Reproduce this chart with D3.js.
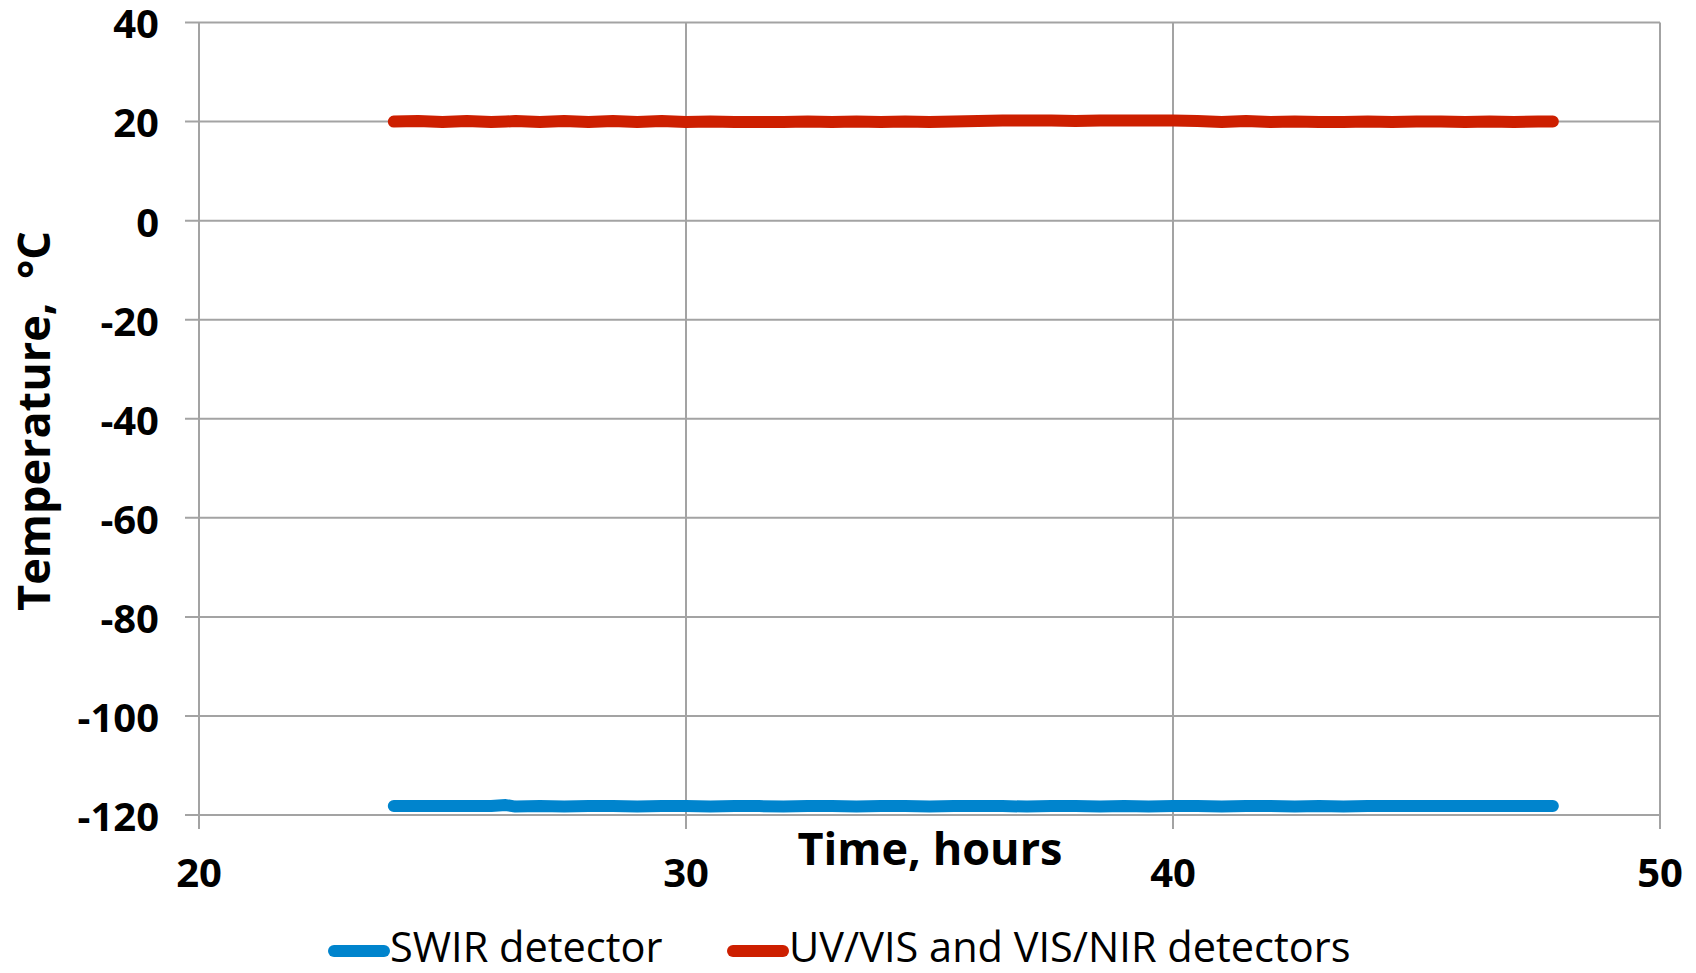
<!DOCTYPE html>
<html>
<head>
<meta charset="utf-8">
<script src="https://cdn.jsdelivr.net/npm/d3@7"></script>
<style>
  html, body { margin: 0; padding: 0; background: #fff; }
  svg { display: block; }
  text { font-family: "Open Sans", "DejaVu Sans", sans-serif; }
</style>
</head>
<body>
<svg id="chart" width="1696" height="973"></svg>
<script>
// ---- data ----
const timeHours = [24.0, 24.5, 25.0, 25.5, 26.0, 26.3, 26.5, 27.0, 27.5, 28.0, 28.5, 29.0, 29.5, 30.0,
  30.5, 31.0, 31.5, 32.0, 32.5, 33.0, 33.5, 34.0, 34.5, 35.0, 35.5, 36.0, 36.5, 37.0, 37.5,
  38.0, 38.5, 39.0, 39.5, 40.0, 40.5, 41.0, 41.5, 42.0, 42.5, 43.0, 43.5, 44.0, 44.5, 45.0,
  45.5, 46.0, 46.5, 47.0, 47.5, 47.8];
const swirTemp = [-118.2, -118.2, -118.2, -118.2, -118.2, -118.0, -118.3, -118.2, -118.3, -118.2,
  -118.2, -118.3, -118.2, -118.2, -118.3, -118.2, -118.2, -118.3, -118.2, -118.2, -118.3, -118.2,
  -118.2, -118.3, -118.2, -118.2, -118.2, -118.3, -118.2, -118.2, -118.3, -118.2, -118.3, -118.2,
  -118.2, -118.3, -118.2, -118.2, -118.3, -118.2, -118.3, -118.2, -118.2, -118.2, -118.2, -118.2,
  -118.2, -118.2, -118.2, -118.2];
const uvvisTemp = [20.0, 20.1, 19.9, 20.1, 19.9, 20.0, 20.1, 19.9, 20.1, 19.9, 20.1, 19.9, 20.1, 19.9,
  20.0, 19.9, 19.9, 19.9, 20.0, 19.9, 20.0, 19.9, 20.0, 19.9, 20.0, 20.1, 20.2, 20.2, 20.2,
  20.1, 20.2, 20.2, 20.2, 20.2, 20.1, 19.9, 20.1, 19.9, 20.0, 19.9, 19.9, 20.0, 19.9, 20.0,
  20.0, 19.9, 20.0, 19.9, 20.0, 20.0];
const xTicks = [20, 30, 40, 50];
const yTicks = [40, 20, 0, -20, -40, -60, -80, -100, -120];
const seriesNames = ["SWIR detector", "UV/VIS and VIS/NIR detectors"];
const seriesColors = ["#0084cd", "#cd1f00"];

// ---- layout ----
const svg = d3.select("#chart");
const mLeft = 199, mRight = 1660, mTop = 22.5, mBottom = 815;
const x = d3.scaleLinear().domain([20, 50]).range([mLeft, mRight]);
const y = d3.scaleLinear().domain([-120, 40]).range([mBottom, mTop]);
const gridColor = "#a3a3a3";

// horizontal gridlines
svg.append("g").selectAll("line").data(yTicks).join("line")
  .attr("x1", mLeft - 14).attr("x2", mRight)
  .attr("y1", d => y(d)).attr("y2", d => y(d))
  .attr("stroke", gridColor).attr("stroke-width", 2);
// vertical gridlines
svg.append("g").selectAll("line").data(xTicks).join("line")
  .attr("x1", d => x(d)).attr("x2", d => x(d))
  .attr("y1", mTop).attr("y2", mBottom + 14)
  .attr("stroke", gridColor).attr("stroke-width", 2);

// tick labels
svg.append("g").selectAll("text").data(yTicks).join("text")
  .attr("x", 159).attr("y", d => y(d) + 1.5).attr("dy", "0.36em")
  .attr("text-anchor", "end").attr("font-weight", "bold").attr("font-size", 40)
  .text(d => d);
svg.append("g").selectAll("text").data(xTicks).join("text")
  .attr("x", d => x(d)).attr("y", 873).attr("dy", "0.36em")
  .attr("text-anchor", "middle").attr("font-weight", "bold").attr("font-size", 40)
  .text(d => d);

// axis titles
svg.append("text").attr("x", 930).attr("y", 865)
  .attr("text-anchor", "middle").attr("font-weight", "bold").attr("font-size", 45)
  .text("Time, hours");
svg.append("text").attr("transform", "translate(50,421) rotate(-90)")
  .attr("text-anchor", "middle").attr("font-weight", "bold").attr("font-size", 45)
  .style("white-space", "pre")
  .text("Temperature,  \u00B0C");

// series
const line = d3.line().x(d => x(d[0])).y(d => y(d[1]));
const series = [swirTemp, uvvisTemp];
series.forEach((vals, i) => {
  const pts = timeHours.map((t, k) => [t, vals[k]]);
  svg.append("path").datum(pts).attr("d", line)
    .attr("fill", "none").attr("stroke", seriesColors[i])
    .attr("stroke-width", 12).attr("stroke-linecap", "round").attr("stroke-linejoin", "round");
});

// legend
const legendX = [334, 733];
const lg = svg.append("g");
seriesNames.forEach((name, i) => {
  lg.append("line").attr("x1", legendX[i]).attr("x2", legendX[i] + 50)
    .attr("y1", 951).attr("y2", 951)
    .attr("stroke", seriesColors[i]).attr("stroke-width", 12).attr("stroke-linecap", "round");
  lg.append("text").attr("x", legendX[i] + 56).attr("y", 962)
    .attr("font-size", 41.5).text(name);
});
</script>
</body>
</html>
